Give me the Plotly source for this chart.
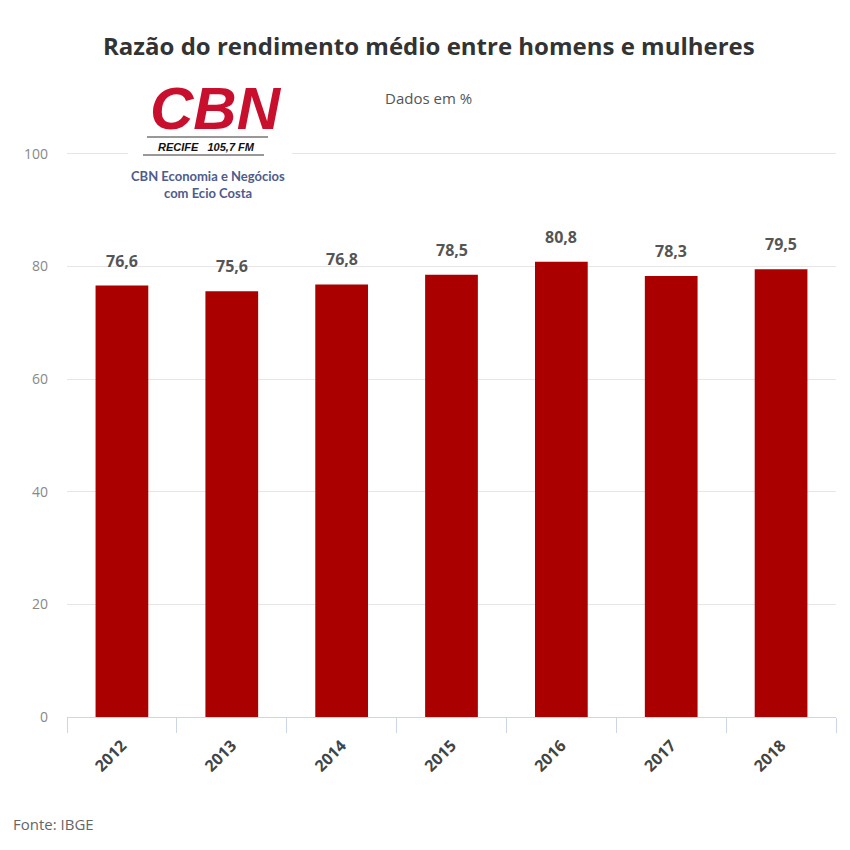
import plotly.graph_objects as go

anos = ["2012", "2013", "2014", "2015", "2016", "2017", "2018"]
razao = [76.6, 75.6, 76.8, 78.5, 80.8, 78.3, 79.5]

# area do grafico em pixels da pagina (janela 850x850, body com margem de 8px)
L, R, T, B = 67, 836, 152, 717
OFF = 8


def px(x):
    return (x - L) / (R - L)


def py(y):
    return (B - y) / (B - T)


fig = go.Figure(go.Bar(
    x=anos, y=razao,
    marker=dict(color="#aa0000", line=dict(width=0)),
    hoverinfo="skip",
))

shapes = [
    # fundo branco do logo
    dict(type="rect", xref="paper", yref="paper", x0=px(128), x1=px(292), y0=py(205), y1=py(80),
         fillcolor="white", line=dict(width=0), layer="above"),
    dict(type="line", xref="paper", yref="paper", x0=px(147), x1=px(268), y0=py(137), y1=py(137),
         line=dict(color="#333333", width=1)),
    dict(type="line", xref="paper", yref="paper", x0=px(143), x1=px(264), y0=py(155), y1=py(155),
         line=dict(color="#333333", width=1)),
]

annotations = [
    dict(text="<b>Razão do rendimento médio entre homens e mulheres</b>", x=px(429), y=py(46),
         font=dict(family="Open Sans", size=24, color="#333333")),
    dict(text="<b><i>CBN</i></b>", x=px(216), y=py(108),
         font=dict(family="Liberation Sans", size=60, color="#c8102e")),
    dict(text="<b><i>RECIFE   105,7 FM</i></b>", x=px(206), y=py(147),
         font=dict(family="Liberation Sans", size=11, color="#111111")),
    dict(text="<b>CBN Economia e Negócios</b>", x=px(208), y=py(176),
         font=dict(family="Lato", size=13, color="#4f5b8c")),
    dict(text="<b>com Ecio Costa</b>", x=px(208), y=py(193),
         font=dict(family="Lato", size=13, color="#4f5b8c")),
    dict(text="Dados em %", x=px(428), y=py(98),
         font=dict(family="Open Sans", size=15, color="#555555")),
    dict(text="Fonte: IBGE", x=px(11), y=py(824), xanchor="left",
         font=dict(family="Open Sans", size=15, color="#666666")),
]
for a in annotations:
    a.update(xref="paper", yref="paper", showarrow=False, yanchor=a.get("yanchor", "middle"),
             xanchor=a.get("xanchor", "center"))

# rotulos de valor acima das barras (x = indice da categoria)
for i, v in enumerate(razao):
    annotations.append(dict(
        x=i, y=v, xref="x", yref="y", showarrow=False, yanchor="bottom", yshift=12,
        text="<b>" + f"{v:.1f}".replace(".", ",") + "</b>",
        font=dict(family="Open Sans", size=16, color="#555555"),
    ))

fig.update_layout(
    width=850, height=850,
    margin=dict(l=L - OFF, r=850 - R + OFF, t=T - OFF, b=850 - B + OFF),
    paper_bgcolor="white", plot_bgcolor="white",
    bargap=0.52, showlegend=False,
    shapes=shapes, annotations=annotations,
    xaxis=dict(
        type="category",
        tickangle=-45, ticks="outside", tickson="boundaries", ticklen=15,
        tickcolor="#ccd6eb", showline=True, linecolor="#ccd6eb", linewidth=1,
        tickfont=dict(family="Open Sans", size=16, color="#444444", weight="bold"),
        ticklabelstandoff=12,
    ),
    yaxis=dict(
        range=[0, 100.3], tickvals=[0, 20, 40, 60, 80, 100], showgrid=True, gridcolor="#e6e6e6",
        zeroline=False, tickfont=dict(family="Open Sans", size=14, color="#888888"),
        ticklabelstandoff=18,
    ),
)

fig.write_html("out.html")
